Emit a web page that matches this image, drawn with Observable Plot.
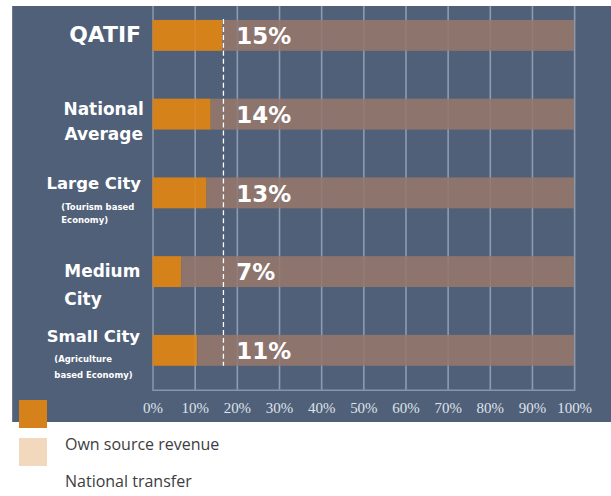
<!DOCTYPE html>
<html>
<head>
<meta charset="utf-8">
<script src="https://cdn.jsdelivr.net/npm/d3@7"></script>
<script src="https://cdn.jsdelivr.net/npm/@observablehq/plot@0.6"></script>
<style>
  html, body { margin:0; padding:0; background:#ffffff; }
  #wrap { position:relative; width:611px; height:496px; overflow:hidden; }
  #panel { position:absolute; left:12px; top:6px; width:599px; height:416px; background:#506079; border-left:1px solid #6b7b93; box-sizing:border-box; }
  #panel svg { position:absolute; left:-1px; top:0; }
  .sw { position:absolute; left:19px; width:28px; height:28px; }
  .lt { position:absolute; left:65px; font-family:"Open Sans", sans-serif; font-size:16px; color:#3d3d3d; line-height:20px; }
</style>
</head>
<body>
<div id="wrap">
  <div id="panel"></div>
  <div id="legend"></div>
</div>
<script>
// ---- data ----
const categories = ["QATIF", "National Average", "Large City", "Medium City", "Small City"];
const ownSource = [16.5, 13.8, 12.8, 6.8, 10.6];          // Own source revenue share (bar length, %)
const pctLabels = ["15%", "14%", "13%", "7%", "11%"];
const series = ["Own source revenue", "National transfer"];
const referenceLine = [16.7];                              // dashed marker (%)
const ticks = [0, 10, 20, 30, 40, 50, 60, 70, 80, 90, 100];
const titleLines = ["QATIF", "National\nAverage", "Large City", "Medium\nCity", "Small City"];
const noteLines = ["", "", "(Tourism based\nEconomy)", "", "(Agriculture\nbased Economy)"];

const ORANGE = "#d5821b", BROWN = "#8d756e", PEACH = "#f2d8bd", GRID = "#8796ad";

const rows = [];
categories.forEach((c, i) => {
  rows.push({category: c, series: series[0], value: ownSource[i]});
  rows.push({category: c, series: series[1], value: 100 - ownSource[i]});
});

const FONT = "'DejaVu Sans', sans-serif";
const lbl = (i, text, o) => Plot.text([i], {
  x: 0, y: j => categories[j], text: j => text[j],
  fill: "#ffffff", fontFamily: FONT, fontWeight: "bold", lineAnchor: "middle", ...o
});

const chart = Plot.plot({
  width: 600, height: 416,
  marginLeft: 141, marginRight: 36, marginTop: 0, marginBottom: 31,
  style: {background: "transparent", color: "#dfe3ea", overflow: "visible",
          fontFamily: "'Liberation Serif', 'Times New Roman', serif", fontSize: "15px"},
  x: {domain: [0, 100], axis: null, label: null},
  y: {domain: categories, range: [13, 361], paddingInner: 0.61, paddingOuter: 0, axis: null, label: null},
  color: {domain: series, range: [ORANGE, BROWN]},
  marks: [
    Plot.ruleX(ticks, {stroke: GRID, strokeWidth: 1.6}),
    Plot.barX(rows, {y: "category", x: "value", fill: "series", order: series}),
    Plot.ruleX(ticks.slice(1), {stroke: "#ffffff", strokeOpacity: 0.06, strokeWidth: 1.6}),
    Plot.ruleX(referenceLine, {stroke: "#ffffff", strokeWidth: 1.3, strokeDasharray: "5,3", insetTop: 13, insetBottom: 24}),
    Plot.frame({anchor: "bottom", stroke: GRID, strokeWidth: 1.6}),
    Plot.axisX({ticks: ticks, tickFormat: d => d + "%", tickSize: 0, tickPadding: 12, label: null,
      fontSize: 15, fontFamily: "'Liberation Serif', serif", fill: "#dfe3ea"}),
    Plot.text(categories, {x: 20, y: d => d, text: (d, i) => pctLabels[i], fill: "#ffffff",
      fontFamily: FONT, fontWeight: "bold", fontSize: 23, textAnchor: "start", dx: -1, dy: 1}),
    lbl(0, titleLines, {fontSize: 22, textAnchor: "end", dx: -12, dy: -1}),
    lbl(1, titleLines, {fontSize: 17, textAnchor: "middle", dx: -49.5, dy: 4.5, lineHeight: 1.5}),
    lbl(2, titleLines, {fontSize: 16.5, textAnchor: "end", dx: -12, dy: -10}),
    lbl(2, noteLines, {fontSize: 8.5, textAnchor: "start", dx: -92, dy: 19, lineHeight: 1.5}),
    lbl(3, titleLines, {fontSize: 17, textAnchor: "start", dx: -89, dy: 10, lineHeight: 1.65}),
    lbl(4, titleLines, {fontSize: 16.5, textAnchor: "end", dx: -13, dy: -14}),
    lbl(4, noteLines, {fontSize: 8.5, textAnchor: "start", dx: -99, dy: 14.5, lineHeight: 1.85})
  ]
});
document.getElementById("panel").appendChild(chart);

// ---- legend (as in the reference layout) ----
const legend = document.getElementById("legend");
const swatches = [[ORANGE, 400], [PEACH, 438]];
swatches.forEach(([c, top]) => {
  const s = document.createElement("div");
  s.className = "sw"; s.style.background = c; s.style.top = top + "px";
  legend.appendChild(s);
});
[[series[0], 434], [series[1], 471]].forEach(([t, top]) => {
  const d = document.createElement("div");
  d.className = "lt"; d.style.top = top + "px"; d.textContent = t;
  legend.appendChild(d);
});
</script>
</body>
</html>
